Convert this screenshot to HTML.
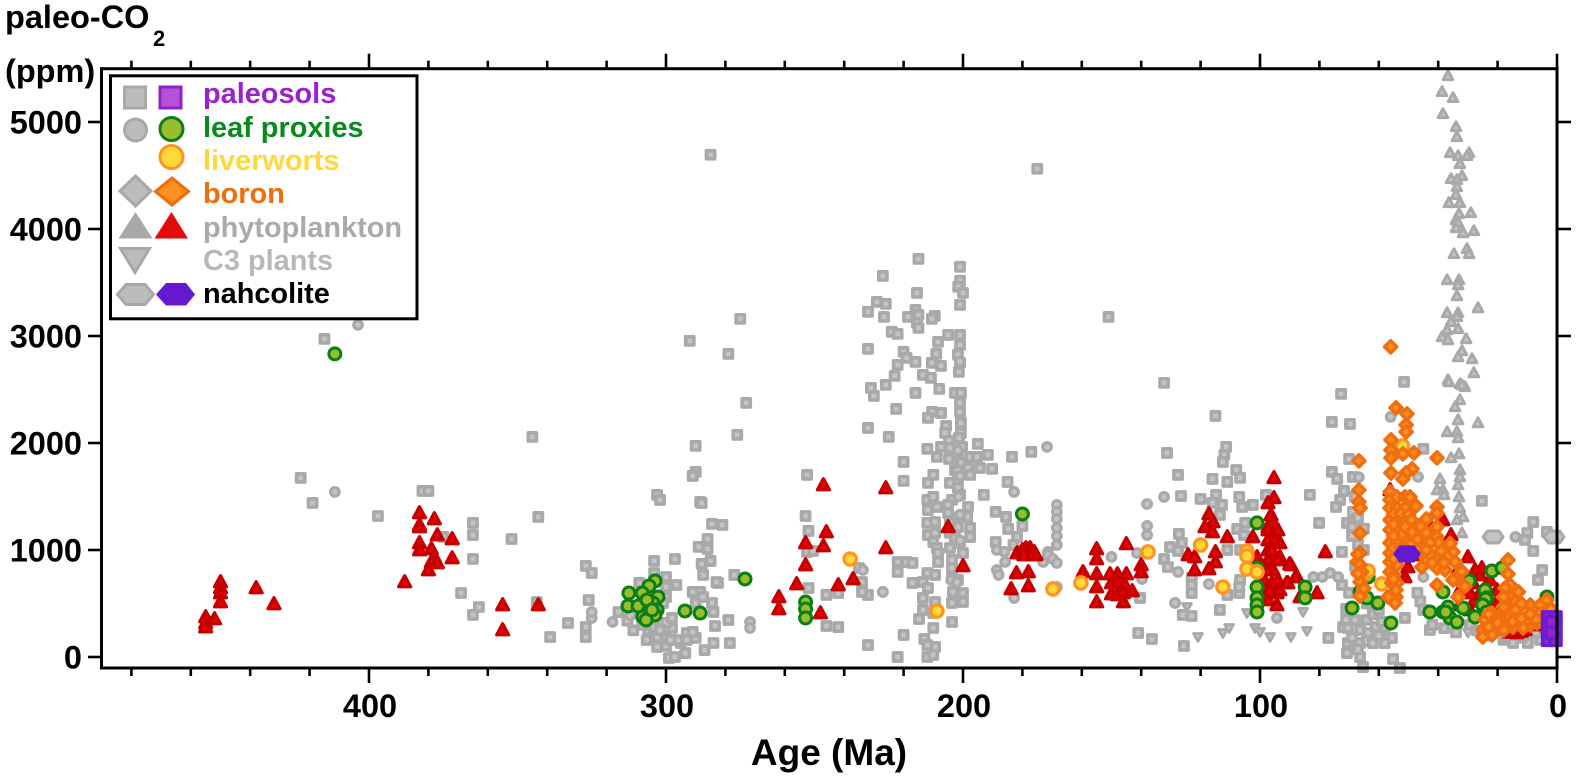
<!DOCTYPE html>
<html lang="en">
<head>
<meta charset="utf-8">
<title>Paleo-CO2 proxies vs age</title>
<style>
html,body{margin:0;padding:0;background:#fff;}
svg{display:block;}
text{font-family:"Liberation Sans",Arial,sans-serif;font-weight:bold;}
</style>
</head>
<body>
<svg id="chart" xmlns="http://www.w3.org/2000/svg" width="1581" height="779" viewBox="0 0 1581 779">
  <rect x="0" y="0" width="1581" height="779" fill="#fff"/>
  <g id="marks"></g>
  <rect x="101.5" y="68.7" width="1455.5" height="599.3" fill="none" stroke="#000" stroke-width="3"/>
  <g id="ticks"></g>
  <g id="tick-labels"></g>
  <text x="5" y="28" font-size="32.5" fill="#000">paleo-CO</text>
  <text x="153" y="46" font-size="22" fill="#000">2</text>
  <text x="5" y="82" font-size="32.5" fill="#000">(ppm)</text>
  <text x="829" y="765" font-size="37" text-anchor="middle" fill="#000">Age (Ma)</text>

  <g>
    <rect x="110.5" y="75.8" width="306.5" height="243" fill="#fff" stroke="#000" stroke-width="3"/>
    <rect x="124.5" y="87" width="21" height="21" fill="#bcbcbc" stroke="#a8a8a8" stroke-width="3"/>
    <rect x="160" y="87" width="21" height="21" fill="#b452d8" stroke="#9420cc" stroke-width="3"/>
    <circle cx="135.5" cy="130" r="11" fill="#bcbcbc" stroke="#a8a8a8" stroke-width="3"/>
    <circle cx="171.5" cy="129" r="11.5" fill="#9abc2e" stroke="#0a7f14" stroke-width="3"/>
    <circle cx="171.5" cy="157" r="11.5" fill="#ffd83a" stroke="#ff9420" stroke-width="3"/>
    <path d="M135.5 176 L151 191 L135.5 206 L120 191 Z" fill="#bcbcbc" stroke="#a8a8a8" stroke-width="3"/>
    <path d="M172 178 L188.5 191.500 L172 205 L155.500 191.500 Z" fill="#ff8f1e" stroke="#ee6c10" stroke-width="3"/>
    <path d="M135.500 212 L152.500 238.500 L118.500 238.500 Z" fill="#a8a8a8"/>
    <path d="M171.500 212 L188 238.500 L154.500 238.500 Z" fill="#e20a0a"/>
    <path d="M120.500 248.500 L149.500 248.500 L135 272.500 Z" fill="#bcbcbc" stroke="#a8a8a8" stroke-width="3"/>
    <path d="M117.500 294.500 L126 284.500 L145 284.500 L153.500 294.500 L145 304.500 L126 304.500 Z" fill="#bcbcbc" stroke="#a8a8a8" stroke-width="3"/>
    <path d="M156 294.500 L166 283 L186 283 L195 294.500 L186 305.500 L166 305.500 Z" fill="#6418d0"/>
    <text x="203" y="103" font-size="28.900" fill="#9a20d0">paleosols</text>
    <text x="203" y="137" font-size="28.900" fill="#0a8a1e">leaf proxies</text>
    <text x="203" y="170" font-size="28.900" fill="#ffd83a">liverworts</text>
    <text x="203" y="203" font-size="28.900" fill="#f06e10">boron</text>
    <text x="203" y="237" font-size="28.900" fill="#aaaaaa">phytoplankton</text>
    <text x="203" y="270" font-size="28.900" fill="#b8b8b8">C3 plants</text>
    <text x="203" y="303" font-size="28.900" fill="#000">nahcolite</text>
  </g>
</svg>
<script>
// Each point is [age in Ma, CO2 in ppm].
const xTickValues = [480,460,440,420,400,380,360,340,320,300,280,260,240,220,200,180,160,140,120,100,80,60,40,20,0];
const xTickLabels = [400,300,200,100,0];
const yTickLabels = [5000,4000,3000,2000,1000,0];

const graySquares = [
[415,2973],[423,1674],[419,1440],[397,1318],[382,1552],[380,1552],[365,1253],[365,1140],[365,916],[369,598],[363,467],[365,393],[375,1122],[345,2057],[343,1309],[352,1103],[343.5,514],[339,187],[333,318],
[290,1973],[290,1730],[291,1692],[303,1515],[302,1468],[288.5,1449],[284.5,1244],[281,1234],[286,1103],[289,1029],[286,1010],[297,916],[304,898],[285,898],[288,870],[287.5,767],[277,767],[300,748],[296.500,673],[282.500,692],[327,851],[325,785],[326,533],[327,280],[327,187],
[306.500,159],[303,94],[300,103],[299,-9],[297,0],[293.500,37],[287,65],[284,131],[278.500,131],[290,178],[293,224],[291,234],[295,131],[298,271],[300,318],[298,365],[300,187],[303,187],[306,252],[304,280],[302,252],[293,159],[296,159],[298.500,159],[283.500,290],[279,346],[284.500,505],[284,421],[290,505],[288.500,608],[291,608],[287.500,561],[300,561],[301,505],[304,785],[300,654],[309,692],[310,480],[316,420],[313,340],[308,300],[311,250],
[275,3160],[279,2833],[273,2375],[276,2076],[292,2955],[285,4694],[175,4563],[252.500,1702],[253,1318],[252,1178],[252.500,982],[250.500,991],[252,645],[246,580],[242,598],[246,290],[242,280],[232,112],[222,0],[232,580],[234,608],[234,701],[235,832],[283,701],[288,1440],
[227,3562],[229,3319],[226,3300],[232,3226],[226.600,3179],[224,3039],[222,3020],[232,2880],[222,2730],[223,2627],[226,2543],[231,2515],[230,2440],[222.500,2319],[232,2141],[225,2057],
[215,3721],[201,3647],[201,3516],[201.600,3460],[200,3403],[201,3291],[215.500,3403],[216,3244],[218.500,3179],[215,3198],[215.500,3123],[215,3076],[209.500,3188],[210.500,3160],[205,3010],[201,3010],[208.400,2945],[201,2917],[220,2852],[219,2796],[216,2758],[209,2833],[201.700,2824],[210.500,2749],[207.400,2721],[201,2749],[201.400,2665],[213.500,2637],[210.800,2609],[208,2506],[216,2468],[202.700,2468],[200.700,2468],[201,2375],[201,2291],[210.400,2291],[207.400,2281],[211.800,2235],[200.700,2188],[205.700,2160],[206,2094],[200.700,2094],[201.400,2048],[195,1992],[204.700,2020],[207.400,1964],[212,1945],[191.600,1889],[183.500,1870],[177,1917],[201.700,1917],[197.600,1870],[195.300,1870],[200.300,1964],[204.400,1954],[208.800,1870],[204.700,1851],[220,1823],[194.300,1767],[190.200,1758],[200.700,1814],[202.700,1748],[198.300,1767],[197.600,1702],[220,1646],[210,1702],[204.400,1627],[211.800,1627],[201.700,1730],[185,1636],[193,1515],[201.700,1655],[201.700,1580],[201,1515],[203.700,1468],[205,1421],[212,1468],[210,1496],[208.800,1402],[211.800,1374],[189,1356],[185.500,1309],[180,1225],[198.300,1402],[198.600,1309],[201,1309],[205,1346],[184.800,1197],[181.800,1122],[183,1047],[189,1075],
[212,1253],[209.400,1262],[211.800,1140],[209.400,1160],[210,1075],[208.800,1019],[208.400,972],[208.400,888],[204.400,1253],[204.400,1160],[204.400,1019],[202.700,1113],[201.700,1216],[201,1066],[200,972],[197.600,1206],[197.600,1122],[203.700,907],[203.700,832],[203.700,748],[201.700,720],[203.400,608],[200,598],[203.700,505],[200,514],[222,888],[219,888],[217,879],[222,795],[217,692],[212,785],[209.400,767],[213.500,701],[211.800,645],[209.400,514],[213.500,552],[213.500,440],[214.800,355],[210,411],[210,271],[203.700,327],[220,206],[213,168],[209.400,94],[212,112],[222,0],[212,0],[210,19],
[132.300,2562],[115,2253],[131.300,1907],[111.400,1964],[112,1889],[112.500,1823],[108,1748],[106.700,1674],[111,1636],[116,1664],[127.600,1702],[126.600,1505],[120,1477],[114.800,1515],[107,1496],[106,1402],[112.800,1421],[116,1440],[102.400,1421],[98,1515],[107.700,1197],[105,1253],[113.500,1328],[127.300,1150],[130.300,1028],[132.300,916],[126.300,1066],[131,841],[127.600,991],[105.400,1140],[111,1000],[106.700,1000],[123,739],[123,598],[123,673],[113.500,440],[123,383],[126,393],[141,224],[136.400,168],[125.600,103],[140.400,552],[106.700,720],[107,598],[107,654],[111,580],[151,3179],
[51.500,2571],[72.700,2459],[75.800,2197],[69.700,2178],[70,1851],[75.800,1730],[74,1664],[68.700,1683],[71.700,1552],[83.200,1515],[73,1468],[74.400,1402],[80.100,1253],[70.700,1253],[68.700,1356],[69,1216],[45,1945],[25.300,1459],[72.400,982],[72.400,673],[72,280],[70.400,131],[70.700,37],[66.300,0],[65.300,-94],[77,178],[57,178],[55.600,178],[55.200,-19],[52.900,-103],[68,346],[64,346],[66.300,252],[63.600,224],[70.400,271],[68,131],[66.300,131],[45,440],[51.200,365],[14.800,131],[9.800,131],[15.800,224],[10,1159],[8,1262],[10.800,1094],[3.400,1169],[8,991],[5,813],[6.400,720],[42.800,252],[29.300,299],[20.900,252],[5.700,159],[2.400,206],[71,450],[70,600],[68,850],[67,1050],[64,500],[62,400],[58,280],[60,440],
[69,1130],[68,1500],[67,1300],[65,1200],[65,1000],[71,350],[69,180],[67,70],[64,150],[61,280],[59,330],[62,130],[58,130],[60,200],[47,600],[46,520],[42,300],[38,270],[34,230],[27,250],[24,200],[18,160],[12,180],[7,230]
];

const grayCircles = [
[411.500,1543],[403.700,3104],[325,365],[325,420],[318,327],[312,390],[308,360],[271.700,327],[271.700,271],[233.700,813],[227,608],[182.800,1543],[188.600,1000],[186,982],[188.600,813],[188,767],[182.800,552],[185.800,888],[227,608],
[201,2760],[201.700,1930],[201.700,1740],[201,1690],[201.500,1500],[201,1330],[201,1090],[200,970],[204,720],[202,700],
[171.700,1964],[168.400,1421],[168.400,1356],[168.400,1290],[168.400,1206],[168.400,1131],[168.400,1047],[171.400,982],[173,888],[171.400,954],[169.700,916],[168.400,879],[168.400,654],[150,935],[138,1430],[132.300,1496],[138,1225],[138,1140],[141.400,972],[139.700,729],[128.600,505],[117.200,682],[127.600,795],[94.300,365],[123,598],
[82,748],[79,748],[76.400,785],[73.700,748],[46.800,1683],[56,2244],[45,748],[14,1122],[66.700,1680]
];

const grayTriangles = [
[36.700,5432],[38.700,5283],[35,5227],[38.400,5077],[34,4955],[33.700,4862],[36,4712],[33.300,4684],[29.600,4712],[30.300,4684],[32.700,4610],[32,4497],[35.700,4469],[33.700,4460],[33.700,4394],[34,4320],[36.400,4245],[32.700,4245],[29,4151],[33,4142],[34,4086],[33.300,4058],[34,4011],[31.600,3964],[28,3983],[34.700,3768],[30.300,3815],[29.600,3768],[37,3525],[33,3525],[33.300,3478],[33.700,3375],[26.600,3263],[37,3216],[33.300,3216],[33.700,3179],[35.700,3132],[37,3057],[33.300,3067],[38.700,2992],[36.700,2964],[30.600,2973],[32,2861],[33.300,2805],[28.600,2786],[28,2655],[36.700,2590],[32.700,2553],[31,2525],
[36.400,2571],[32,2543],[32.700,2403],[34.300,2338],[33.300,2216],[26.600,2188],[37,2104],[33.700,2104],[33.300,2048],[35.700,1861],[33,1898],[32.700,1748],[32.700,1683],[33.300,1608],[39.400,1664],[40.400,1561],[38.400,1561],[33,1496],[38,1515],[32.700,1393],[31.600,1309],[33.700,1281],[32,1159]
];

const grayInverted = [
[120.900,187],[112.500,224],[110.400,271],[101.700,271],[100,234],[96.600,187],[89.600,187],[104.400,411],[124.600,467],[84.200,243],[85.500,421],[18,180],[30,230]
];

const grayHexagons = [
[21.500,1122],[1,1122]
];

const redTriangles = [
[450,701],[450,645],[450,598],[450,514],[455,374],[455,318],[455,280],[452,355],[438,645],[432,496],
[383,1346],[378,1290],[383,1234],[383,1215],[377,1140],[372,1103],[383,1066],[383,1000],[379,1010],[372,925],[378,935],[379,888],[377,879],[380,813],[388,701],[355,486],[343,486],[355,252],
[247,1608],[226,1580],[246,1169],[253,1066],[247,1038],[253,860],[226,1019],[237,729],[242,673],[256,683],[262,561],[262,449],[248,411],[205,1216],[200,851],
[181.800,972],[180,1000],[178.800,1019],[177.400,1019],[176,982],[175.400,954],[177.400,954],[179.500,954],[182,785],[178,795],[178,664],[183.800,636],
[145,1057],[155,1010],[155,916],[159.600,795],[155,776],[150.500,776],[148,776],[145,776],[140,860],[140,795],[155,654],[150,692],[148,701],[145.500,673],[150,589],[148,580],[146,598],[143,617],[155,514],[146,514],
[95.300,1674],[95.300,1487],[97.300,1440],[96.300,1328],[102.400,1122],[111,1122],[117.200,1337],[115.800,1262],[118.500,1216],[116,1169],[124.200,954],[122,935],[122,813],[115,982],[115,888],[117.200,823],[97.300,1216],[94,1187],[95.600,1262],[97.300,1094],[93.300,1066],[97.300,1000],[95.600,935],[97.300,907],[93.300,935],[95.600,813],[97.600,813],[94,720],[96,692],[90.600,692],[89.600,860],[87.500,748],[94.300,598],[94.300,486],[86.500,561],[101,935],[97.300,1187],[95,1094],[96,1000],[94,907],[98.600,720],[97,626],[93.300,626],[97.300,533],
[78,982],[90,870],[88,748],[91,692],[80.800,598],
[56.200,1561],[43.400,1262],[38.400,1281],[35.700,1140],[30,935],[25.300,832],[28.300,692],[29.300,598],[22.600,720],[20.200,626],[26,598],[13.500,224],[50.200,841],[51.200,748],[27.600,813],[22.600,533],[26,767],[32.700,626],[19.200,440],[32.700,486],[10.800,252],[15.800,271],[7.400,299],[29.300,440],[22.600,440],[34.300,767],[37.700,954],[46,954],[5.700,346],
[31,700],[24,660],[28,520],[20,520],[18,350],[16,230],[12,240],[4.500,300],[3,280],[2.500,350]
];

const leafCircles = [
[411.500,2833],[180,1337],[303.700,711],[305.700,664],[308,598],[312.500,598],[312.800,477],[302.700,561],[309.400,477],[304.400,505],[303,440],[306.400,533],[303.700,393],[307.800,374],[306.700,346],[304.700,440],[293.600,430],[288.500,411],[273.400,729],[253,514],[253,449],[253,365],
[101,1253],[101,832],[101,654],[101,552],[101,486],[101,421],[84.800,654],[84.800,552],[69,458],[66.300,608],[64,552],[60.300,505],[63.600,748],[55.900,318],
[42.800,421],[38.400,421],[36.700,467],[36,365],[33.700,327],[38.400,608],[29.600,711],[31.600,458],[27.600,374],[24.200,626],[23.600,552],[21.900,804],[18.500,832],[3.400,561],[24,542],[25,486],[23.600,421],[37.500,420]
];

const liverwortCircles = [
[238,916],[208.800,430],[169.700,636],[160.300,692],[137.700,982],[120,1047],[104.400,991],[104.400,944],[104.400,823],[101,795],[112.500,654],[63.600,804],[59,683],[52,1973]
];

const boronDiamonds = [
[56,2899],[54.200,2328],[50.500,2272],[50.800,2169],[50.800,2104],[55.900,2029],[55.900,1935],[55.900,1861],[51.900,1898],[48.200,1907],[40.400,1861],[66.700,1833],[55.900,1720],[48.800,1758],[50.800,1720],[51.900,1664],[66.700,1561],[66.700,1449],[66.300,1393],
[56.200,1543],[56.200,1468],[53.900,1496],[51.200,1496],[49.500,1496],[47.500,1412],[56.200,1393],[53.900,1393],[51.200,1393],[40.400,1402],[40.400,1346],
[56.200,1281],[53.900,1281],[51.200,1281],[56.200,1187],[53.900,1206],[51.200,1216],[56.200,1066],[53.900,1066],[51.500,1113],[48.800,1169],[45.500,1113],[56.200,972],[53.900,954],[56.200,795],[53.900,860],[55.600,692],[53.900,692],[54.200,561],[54.500,505],[56.900,561],[56.200,888],[55,767],[54.200,626],
[66.300,1159],[66.300,972],[67.300,888],[66.300,860],[65.700,795],[66.300,701],[66.300,570],
[45.500,972],[45.500,841],[43.800,907],[40.400,1216],[40.400,1122],[40,1066],[40.400,954],[40.400,832],[40.400,673],[37.700,813],[35,982],[34.300,888],[33.300,720],[33.300,561],[42.800,1066],[42.800,954],[37,935],
[16.500,907],[16.500,776],[15.800,673],[15.800,561],[14,514],[17.500,645],[13,608],[16.500,458],[16.500,365],[21.900,299],[25,252],[21.900,411],[24.200,346],[25,187],[21.900,206],[19.900,365],[19.900,280],[11.400,440],[13.500,393],[8.400,393],[9,486],[5.700,486],[3.400,533],[3.400,440],[9,299],[14.800,280],[11.400,271],[6.700,318],[1.300,374],[18,470],[18,560],[15,420],[20,320],[10,350],[6,400],[2,300],[1,250],
[55,1340],[52.500,1340],[55,1240],[52.500,1140],[55,1130],[55,1020],[52.500,1020],[55,920],[55,730],[50,1330],[49,1280],[49,1060],[47,1100],[47,1000],[44,1000],[44,1160],[42,880],[39,990],[38,880],[36,1060],[32,800],[35,720],[31,660],[46,1220],[44,1290],[67,960],[67,780],[65,640],[14,440],[12,500],[7,350],[4,380],[2,450],[17,300],[23,280],[23,400],[18,250],[15,330],[12,360],[9,400]
];

const paleosolSquares = [
[3,370],[0.500,370],[3,160],[0.500,160],[3,270],[0.500,270],[1.800,327],[1.800,224]
];

const nahcoliteHexagons = [
[50.500,963]
];

const NS = 'http://www.w3.org/2000/svg';
function xScale(age){ return 1557 - age * 2.97; }
function yScale(ppm){ return 657 - ppm * 0.107; }

function squarePath(x,y,s){ return 'M'+(x-s)+' '+(y-s)+'H'+(x+s)+'V'+(y+s)+'H'+(x-s)+'Z'; }
function circlePath(x,y,r){ return 'M'+(x-r)+' '+y+'A'+r+' '+r+' 0 1 1 '+(x+r)+' '+y+'A'+r+' '+r+' 0 1 1 '+(x-r)+' '+y+'Z'; }
function trianglePath(x,y,s){ return 'M'+x+' '+(y-s*1.05)+'L'+(x+s)+' '+(y+s*0.8)+'L'+(x-s)+' '+(y+s*0.8)+'Z'; }
function invertedPath(x,y,s){ return 'M'+(x-s)+' '+(y-s*0.8)+'L'+(x+s)+' '+(y-s*0.8)+'L'+x+' '+(y+s)+'Z'; }
function diamondPath(x,y,s){ return 'M'+x+' '+(y-s)+'L'+(x+s)+' '+y+'L'+x+' '+(y+s)+'L'+(x-s)+' '+y+'Z'; }
function hexPath(x,y,s){ return 'M'+(x-s)+' '+y+'L'+(x-s*0.55)+' '+(y-s*0.6)+'L'+(x+s*0.55)+' '+(y-s*0.6)+'L'+(x+s)+' '+y+'L'+(x+s*0.55)+' '+(y+s*0.6)+'L'+(x-s*0.55)+' '+(y+s*0.6)+'Z'; }

function plot(points, name, shape, size, fill, stroke, width){
  const layer = document.getElementById('marks');
  const group = document.createElementNS(NS,'g');
  
  
  for (const p of points){
    const el = document.createElementNS(NS,'path');
    el.setAttribute('d', shape(xScale(p[0]), yScale(p[1]), size));
    el.setAttribute('fill', fill);
    el.setAttribute('stroke', stroke);
    el.setAttribute('stroke-width', width);
    el.setAttribute('stroke-linejoin', 'round');
    
    
    group.appendChild(el);
  }
  layer.appendChild(group);
}

plot(graySquares,'gray-paleosol',squarePath,4.1,'#c4c4c4','#a9a9a9',3.6);
plot(grayCircles,'gray-leaf-proxy',circlePath,4.300,'#c4c4c4','#a9a9a9',3.2);
plot(grayTriangles,'gray-phytoplankton',trianglePath,4.800,'#c4c4c4','#a9a9a9',3);
plot(grayInverted,'gray-c3-plant',invertedPath,4.400,'#c4c4c4','#a9a9a9',2.800);
plot(grayHexagons,'gray-nahcolite',hexPath,10,'#c4c4c4','#a9a9a9',3);
plot(redTriangles,'phytoplankton',trianglePath,6,'#e00606','#c60000',3.200);
plot(leafCircles,'leaf-proxy',circlePath,6,'#9abc2e','#0a7f14',3);
plot(liverwortCircles,'liverwort',circlePath,6.200,'#ffd83a','#ff9420',3.200);
plot(boronDiamonds,'boron',diamondPath,6,'#ff8f1e','#f06e10',3.600);
plot(nahcoliteHexagons,'nahcolite',hexPath,13,'#6418d0','#6418d0',1.500);
plot(paleosolSquares,'paleosol',squarePath,5.500,'#9a20d0','#6a1ed4',3.500);

const tickLayer = document.getElementById('ticks');
for (const t of xTickValues){
  const major = t % 100 === 0;
  const len = major ? 15 : 8;
  const x = xScale(t);
  const top = document.createElementNS(NS,'line');
  top.setAttribute('x1', x);
  top.setAttribute('x2', x);
  top.setAttribute('y1', 68.7);
  top.setAttribute('y2', 68.7 - len);
  top.setAttribute('stroke', '#000');
  top.setAttribute('stroke-width', 2.6);
  
  
  tickLayer.appendChild(top);
  const bottom = document.createElementNS(NS,'line');
  bottom.setAttribute('x1', x);
  bottom.setAttribute('x2', x);
  bottom.setAttribute('y1', 668);
  bottom.setAttribute('y2', 668 + len);
  bottom.setAttribute('stroke', '#000');
  bottom.setAttribute('stroke-width', 2.6);
  
  
  tickLayer.appendChild(bottom);
}
for (const v of yTickLabels){
  const y = yScale(v);
  const left = document.createElementNS(NS,'line');
  left.setAttribute('x1', 88);
  left.setAttribute('x2', 101.5);
  left.setAttribute('y1', y);
  left.setAttribute('y2', y);
  left.setAttribute('stroke', '#000');
  left.setAttribute('stroke-width', 2.6);
  
  
  tickLayer.appendChild(left);
  const right = document.createElementNS(NS,'line');
  right.setAttribute('x1', 1557);
  right.setAttribute('x2', 1571);
  right.setAttribute('y1', y);
  right.setAttribute('y2', y);
  right.setAttribute('stroke', '#000');
  right.setAttribute('stroke-width', 2.6);
  
  
  tickLayer.appendChild(right);
}

const labelLayer = document.getElementById('tick-labels');
for (const v of xTickLabels){
  const t = document.createElementNS(NS,'text');
  t.setAttribute('x', xScale(v) + 1);
  t.setAttribute('y', 717);
  t.setAttribute('text-anchor', 'middle');
  t.setAttribute('font-size', 32.5);
  
  
  t.textContent = v;
  labelLayer.appendChild(t);
}
for (const v of yTickLabels){
  const t = document.createElementNS(NS,'text');
  t.setAttribute('x', 82);
  t.setAttribute('y', yScale(v) + 11.5);
  t.setAttribute('text-anchor', 'end');
  t.setAttribute('font-size', 32.5);
  
  
  t.textContent = v;
  labelLayer.appendChild(t);
}
</script>
</body>
</html>
